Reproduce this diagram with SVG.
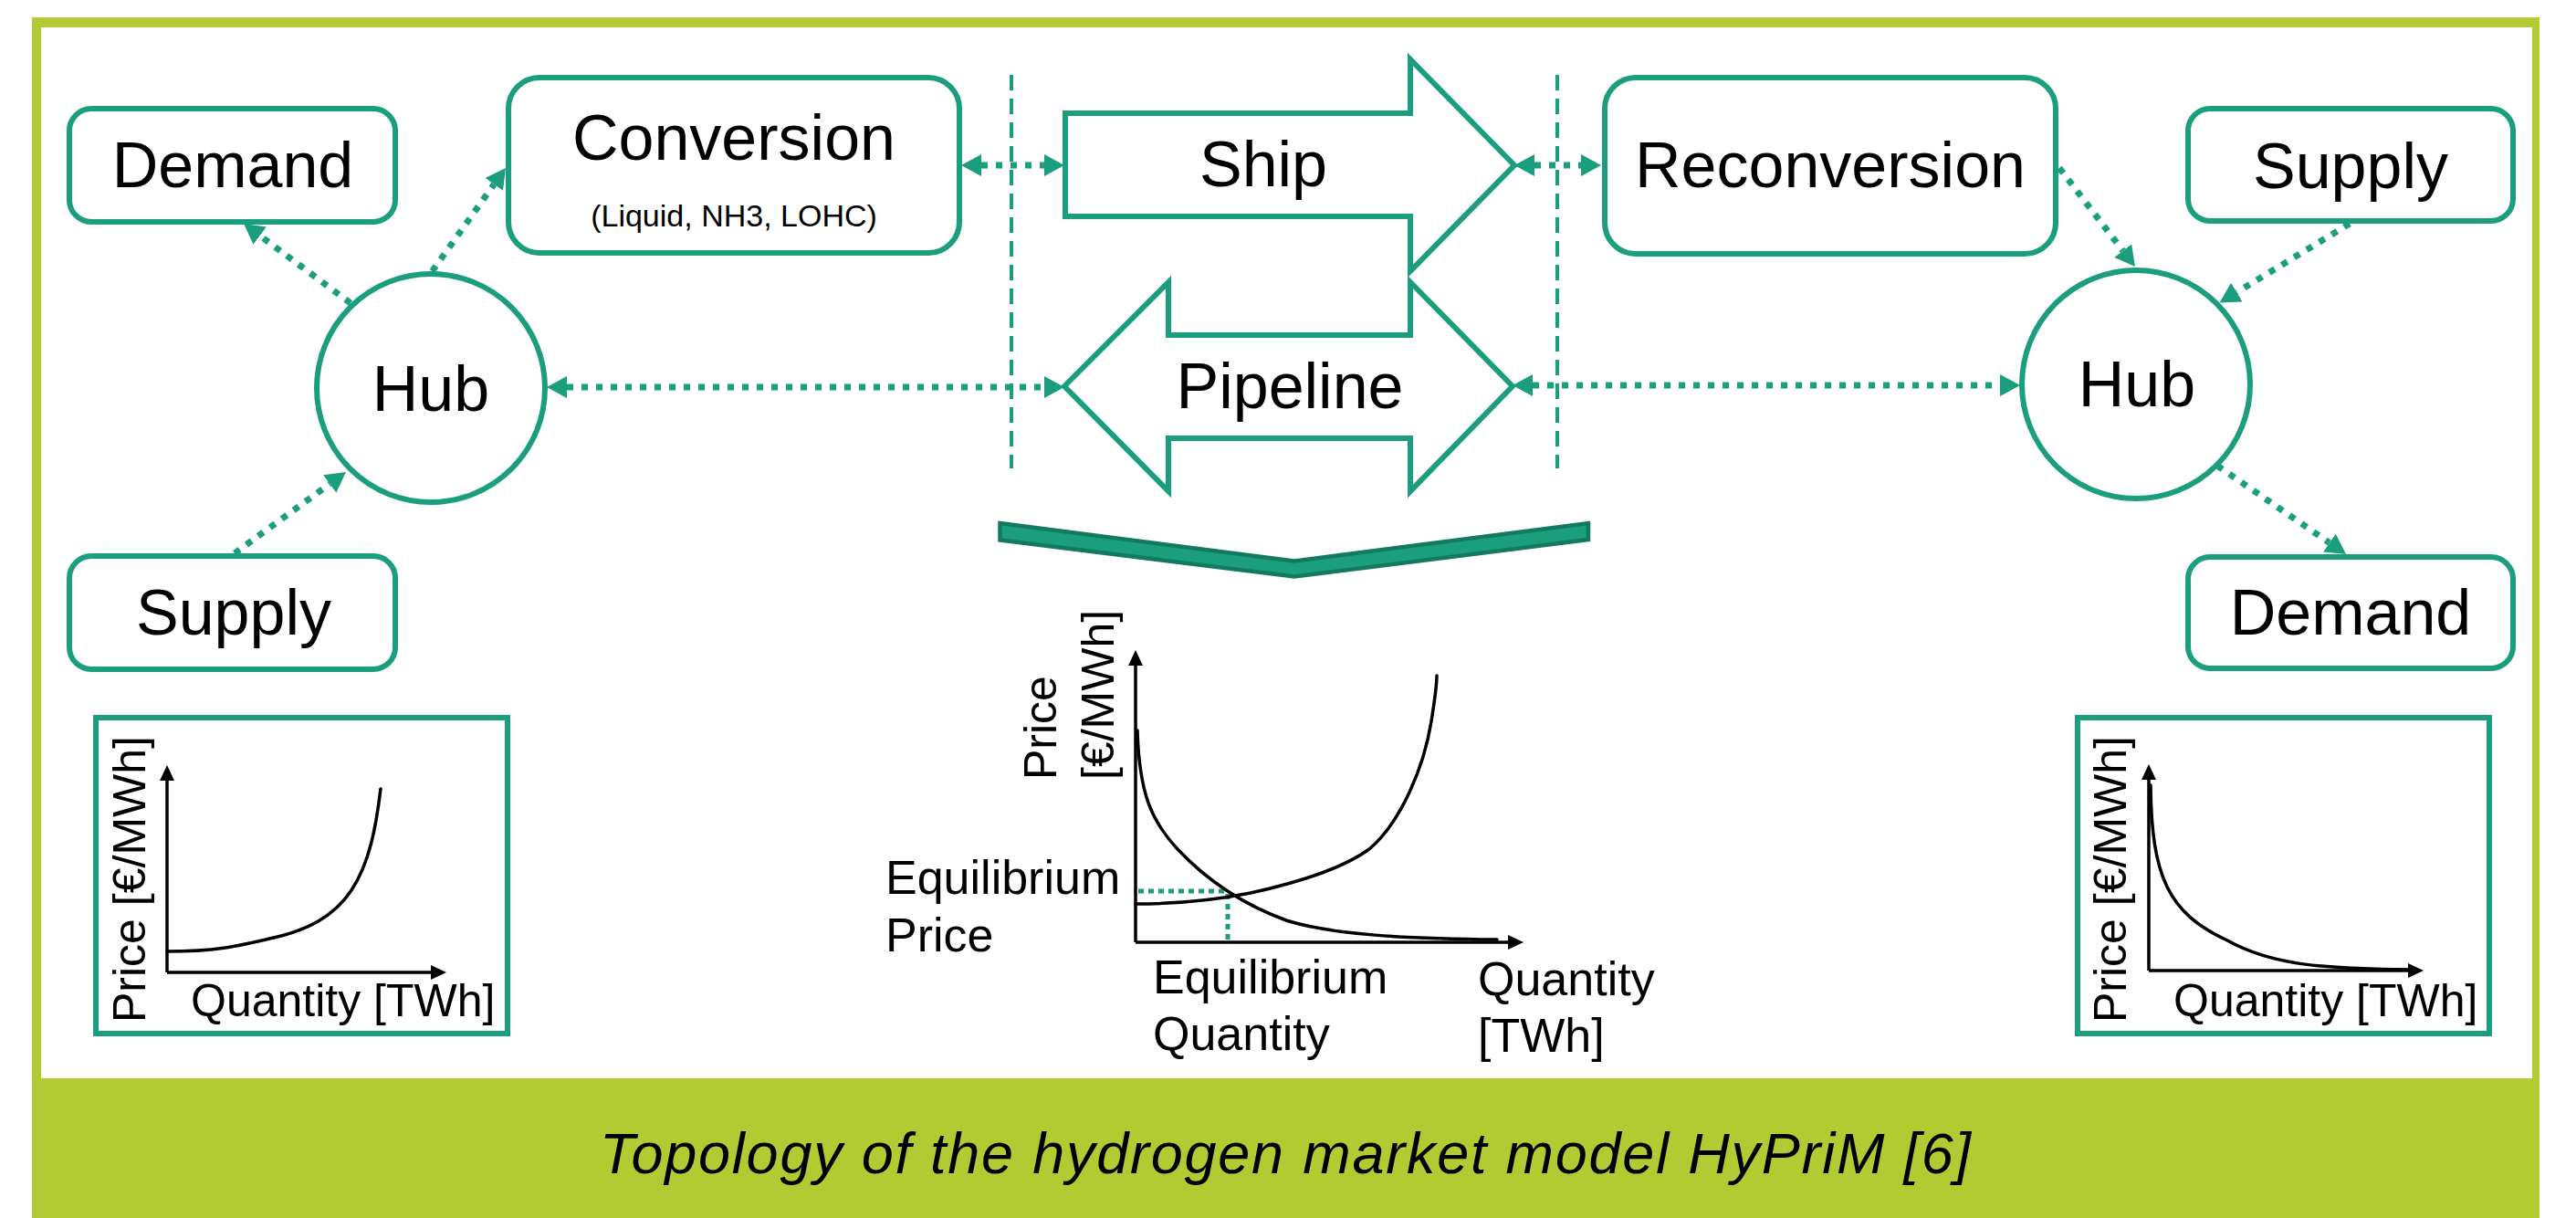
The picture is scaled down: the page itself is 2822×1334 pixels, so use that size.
<svg xmlns="http://www.w3.org/2000/svg" width="2822" height="1334" viewBox="0 0 2822 1334">
  <defs>
    <style>
      .node { fill: #ffffff; stroke: #1B9E7D; stroke-width: 6; }
      .lbl { font-family: "Liberation Sans", Arial, sans-serif; font-size: 70px; fill: #000000; text-anchor: middle; }
      .small { font-family: "Liberation Sans", Arial, sans-serif; font-size: 34px; fill: #000000; text-anchor: middle; }
      .axlbl { font-family: "Liberation Sans", Arial, sans-serif; font-size: 50px; fill: #000000; }
      .eqlbl { font-family: "Liberation Sans", Arial, sans-serif; font-size: 52px; fill: #000000; }
      .flow { fill: none; stroke: #1B9E7D; stroke-width: 7; stroke-dasharray: 7 9; }
      .border { fill: none; stroke: #1B9E7D; stroke-width: 4; stroke-dasharray: 17 9; }
      .axis { fill: none; stroke: #000000; stroke-width: 3.5; }
      .curve { fill: none; stroke: #000000; stroke-width: 3.5; stroke-linecap: round; }
      .eqline { fill: none; stroke: #1B9E7D; stroke-width: 5; stroke-dasharray: 6 5; }
      .chart { fill: #ffffff; stroke: #1B9E7D; stroke-width: 6; }
    </style>
    <marker id="ah" viewBox="0 -12 22 24" refX="0" refY="0" markerWidth="22" markerHeight="24" markerUnits="userSpaceOnUse" orient="auto-start-reverse">
      <path d="M0,-12 L22,0 L0,12 z" fill="#1B9E7D"/>
    </marker>
    <marker id="axh" viewBox="0 -8 17 16" refX="0" refY="0" markerWidth="17" markerHeight="16" markerUnits="userSpaceOnUse" orient="auto">
      <path d="M0,-8 L17,0 L0,8 z" fill="#000000"/>
    </marker>
  </defs>

  <!-- frame and caption band -->
  <rect x="0" y="0" width="2822" height="1334" fill="#ffffff"/>
  <rect x="35" y="19" width="2747" height="1315" fill="#B2CB33"/>
  <rect x="45" y="30" width="2729" height="1151" fill="#ffffff"/>
  <g id="caption">
    <text x="1408" y="1285" font-family="'Liberation Sans', Arial, sans-serif" font-style="italic" font-size="63" fill="#000000" text-anchor="middle" textLength="1502" lengthAdjust="spacing">Topology of the hydrogen market model HyPriM [6]</text>
  </g>

  <!-- transport boundaries -->
  <g id="boundaries">
    <line class="border" x1="1108" y1="82" x2="1108" y2="513"/>
    <line class="border" x1="1706" y1="82" x2="1706" y2="513"/>
  </g>

  <!-- connectors -->
  <g id="connectors">
    <line class="flow" x1="1075" y1="181" x2="1144" y2="181" marker-start="url(#ah)" marker-end="url(#ah)"/>
    <line class="flow" x1="1681" y1="181" x2="1732" y2="181" marker-start="url(#ah)" marker-end="url(#ah)"/>
    <line class="flow" x1="621" y1="424" x2="1144" y2="424" marker-start="url(#ah)" marker-end="url(#ah)"/>
    <line class="flow" x1="1679" y1="422" x2="2191" y2="422" marker-start="url(#ah)" marker-end="url(#ah)"/>
    <line class="flow" x1="384" y1="332" x2="284.7" y2="258.1" marker-end="url(#ah)"/>
    <line class="flow" x1="473.5" y1="297" x2="541.2" y2="201.9" marker-end="url(#ah)"/>
    <line class="flow" x1="257" y1="606" x2="361.2" y2="530" marker-end="url(#ah)"/>
    <line class="flow" x1="2256" y1="184" x2="2325.6" y2="274.6" marker-end="url(#ah)"/>
    <line class="flow" x1="2574" y1="245" x2="2450.3" y2="320.1" marker-end="url(#ah)"/>
    <line class="flow" x1="2429" y1="510" x2="2551.9" y2="594.5" marker-end="url(#ah)"/>
  </g>

  <!-- left side nodes -->
  <g id="demand-left">
    <rect class="node" x="76" y="119" width="357" height="124" rx="24"/>
    <text class="lbl" x="255" y="205">Demand</text>
  </g>
  <g id="conversion">
    <rect class="node" x="557" y="85" width="494" height="192" rx="34"/>
    <text class="lbl" x="804" y="175">Conversion</text>
    <text class="small" x="804" y="248">(Liquid, NH3, LOHC)</text>
  </g>
  <g id="hub-left">
    <circle class="node" cx="472" cy="425" r="125"/>
    <text class="lbl" x="472" y="450">Hub</text>
  </g>
  <g id="supply-left">
    <rect class="node" x="76" y="609" width="357" height="124" rx="24"/>
    <text class="lbl" x="256" y="695">Supply</text>
  </g>

  <!-- transport modes -->
  <g id="ship">
    <polygon class="node" points="1167,124 1545,124 1545,65 1659,181 1545,297 1545,237 1167,237"/>
    <text class="lbl" x="1384" y="204">Ship</text>
  </g>
  <g id="pipeline">
    <polygon class="node" points="1166,423 1280,309 1280,367 1545,367 1545,309 1657,423 1545,538 1545,480 1280,480 1280,538"/>
    <text class="lbl" x="1413" y="447">Pipeline</text>
  </g>

  <!-- right side nodes -->
  <g id="reconversion">
    <rect class="node" x="1758" y="85" width="494" height="193" rx="34"/>
    <text class="lbl" x="2005" y="205">Reconversion</text>
  </g>
  <g id="supply-right">
    <rect class="node" x="2397" y="119" width="356" height="123" rx="24"/>
    <text class="lbl" x="2575" y="206">Supply</text>
  </g>
  <g id="hub-right">
    <circle class="node" cx="2340" cy="421" r="125"/>
    <text class="lbl" x="2341" y="445">Hub</text>
  </g>
  <g id="demand-right">
    <rect class="node" x="2397" y="610" width="356" height="122" rx="24"/>
    <text class="lbl" x="2575" y="695">Demand</text>
  </g>

  <!-- aggregation chevron -->
  <g id="chevron">
    <polygon points="1095.5,573 1418,614.5 1740,573 1740,591 1418,631.5 1095.5,591.5" fill="#1A9E7C" stroke="#137A5F" stroke-width="4.5" stroke-linejoin="miter"/>
  </g>

  <!-- supply curve chart -->
  <g id="chart-supply">
    <rect class="chart" x="105" y="786" width="451" height="346"/>
    <line class="axis" x1="183" y1="1065" x2="183" y2="855" marker-end="url(#axh)"/>
    <line class="axis" x1="183" y1="1065" x2="472" y2="1065" marker-end="url(#axh)"/>
    <path class="curve" d="M183,1042 C240,1042 265,1035 300,1027 S365,1005 385,975 S412,905 417,864"/>
    <text class="axlbl" transform="translate(159,1120) rotate(-90)">Price [€/MWh]</text>
    <text class="axlbl" x="209" y="1113">Quantity [TWh]</text>
  </g>

  <!-- demand curve chart -->
  <g id="chart-demand">
    <rect class="chart" x="2276" y="786" width="451" height="346"/>
    <line class="axis" x1="2354" y1="1063" x2="2354" y2="854" marker-end="url(#axh)"/>
    <line class="axis" x1="2354" y1="1063" x2="2638" y2="1063" marker-end="url(#axh)"/>
    <path class="curve" d="M2356,860 C2357,960 2375,1000 2440,1030 C2490,1058 2550,1061 2640,1062"/>
    <text class="axlbl" transform="translate(2329,1120) rotate(-90)">Price [€/MWh]</text>
    <text class="axlbl" x="2381" y="1113">Quantity [TWh]</text>
  </g>

  <!-- market equilibrium chart -->
  <g id="chart-equilibrium">
    <line class="eqline" x1="1247" y1="976" x2="1346" y2="976"/>
    <line class="eqline" x1="1345" y1="979" x2="1345" y2="1030"/>
    <line class="axis" x1="1244" y1="1032" x2="1244" y2="729" marker-end="url(#axh)"/>
    <line class="axis" x1="1244" y1="1032" x2="1652" y2="1032" marker-end="url(#axh)"/>
    <path class="curve" d="M1244,990 C1290,990 1330,986 1370,978 C1420,967 1470,952 1500,930 C1535,900 1560,840 1568,790 C1572,765 1574,750 1574,740"/>
    <path class="curve" d="M1246,800 C1248,870 1262,900 1290,930 C1320,962 1360,990 1409,1008 C1460,1024 1540,1028 1640,1029"/>
    <text class="axlbl" transform="translate(1157,854) rotate(-90)">Price</text>
    <text class="axlbl" transform="translate(1220,854) rotate(-90)">[€/MWh]</text>
    <text class="eqlbl" x="970" y="979">Equilibrium</text>
    <text class="eqlbl" x="970" y="1042">Price</text>
    <text class="eqlbl" x="1263" y="1088">Equilibrium</text>
    <text class="eqlbl" x="1263" y="1150">Quantity</text>
    <text class="eqlbl" x="1619" y="1090">Quantity</text>
    <text class="eqlbl" x="1619" y="1152">[TWh]</text>
  </g>
</svg>
